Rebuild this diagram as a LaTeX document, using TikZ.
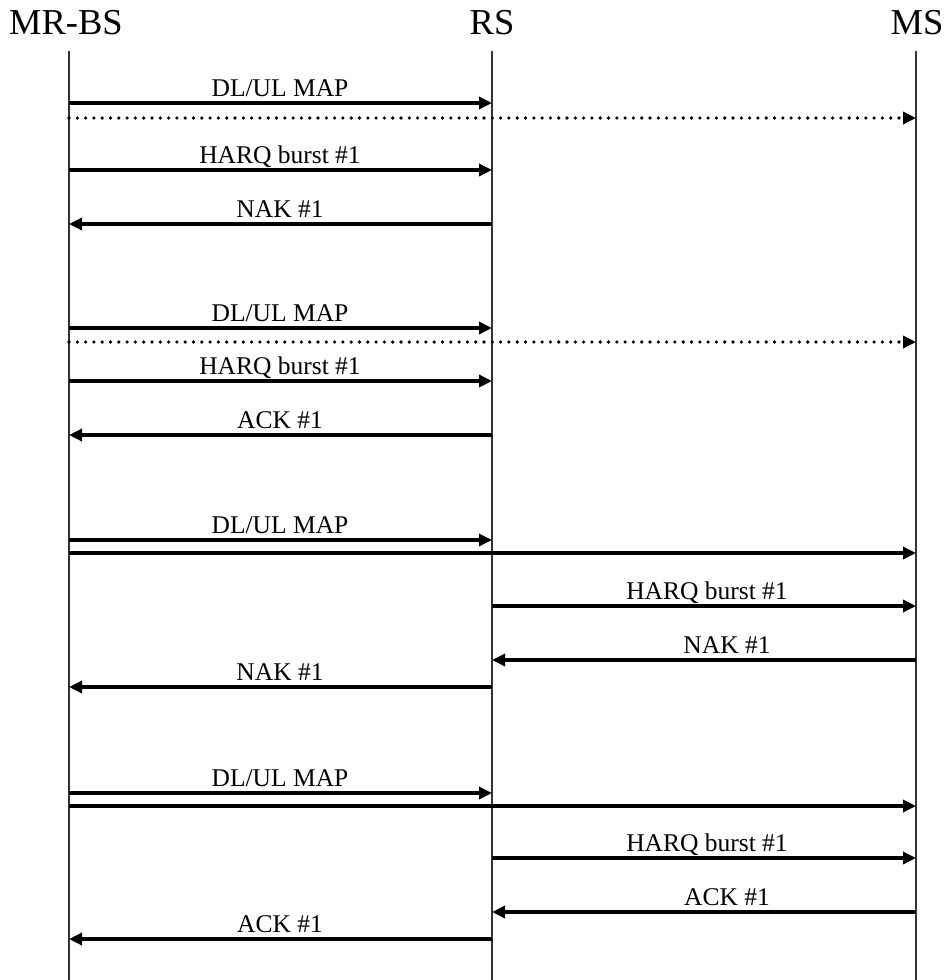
\documentclass[tikz,border=0pt]{standalone}
\usepackage{fontspec}
\setmainfont{Liberation Serif}
\usetikzlibrary{arrows.meta}
\begin{document}
\begin{tikzpicture}[x=1pt,y=-1pt,
  head/.style={anchor=base,inner sep=0pt,font=\fontsize{36.5}{40}\selectfont},
  lbl/.style={anchor=base,inner sep=0pt,font=\fontsize{25.5}{30}\selectfont},
  life/.style={line width=1.1pt,black!80},
  msg/.style={line width=3.6pt,-{Triangle[length=13pt,width=12pt]}},
  dotmsg/.style={line width=3.6pt,line cap=round,dash pattern=on 0pt off 8.3pt,-{Triangle[length=13pt,width=12pt]}}]
\useasboundingbox (0,0) rectangle (947,980);
% heads
\node[head] (hbs) at (66,34) {MR-BS};
\node[head] (hrs) at (492,34) {RS};
\node[head] (hms) at (917,34) {MS};
\coordinate (bs) at (69,51);
\coordinate (rs) at (492,51);
\coordinate (ms) at (916,51);
\coordinate (bsb) at (69,980);
\coordinate (rsb) at (492,980);
\coordinate (msb) at (916,980);
\draw[life] (bs) -- (bsb);
\draw[life] (rs) -- (rsb);
\draw[life] (ms) -- (msb);
% block 1
\draw[msg] (bs |- 0,103) -- (rs |- 0,103);
\node[lbl] (l1) at (280,96) {DL/UL MAP};
\draw[dotmsg] (bs |- 0,118) -- (ms |- 0,118);
\draw[msg] (bs |- 0,170) -- (rs |- 0,170);
\node[lbl] (l2) at (280,163) {HARQ burst \#1};
\draw[msg] (rs |- 0,224) -- (bs |- 0,224);
\node[lbl] (l3) at (280,217) {NAK \#1};
% block 2
\draw[msg] (bs |- 0,328) -- (rs |- 0,328);
\node[lbl] (l4) at (280,321) {DL/UL MAP};
\draw[dotmsg] (bs |- 0,342) -- (ms |- 0,342);
\draw[msg] (bs |- 0,381) -- (rs |- 0,381);
\node[lbl] (l5) at (280,374) {HARQ burst \#1};
\draw[msg] (rs |- 0,435) -- (bs |- 0,435);
\node[lbl] (l6) at (280,428) {ACK \#1};
% block 3
\draw[msg] (bs |- 0,540) -- (rs |- 0,540);
\node[lbl] (l7) at (280,533) {DL/UL MAP};
\draw[msg] (bs |- 0,553) -- (ms |- 0,553);
\draw[msg] (rs |- 0,606) -- (ms |- 0,606);
\node[lbl] (l8) at (707,599) {HARQ burst \#1};
\draw[msg] (ms |- 0,660) -- (rs |- 0,660);
\node[lbl] (l9) at (727,653) {NAK \#1};
\draw[msg] (rs |- 0,687) -- (bs |- 0,687);
\node[lbl] (l10) at (280,680) {NAK \#1};
% block 4
\draw[msg] (bs |- 0,793) -- (rs |- 0,793);
\node[lbl] (l11) at (280,786) {DL/UL MAP};
\draw[msg] (bs |- 0,806) -- (ms |- 0,806);
\draw[msg] (rs |- 0,858) -- (ms |- 0,858);
\node[lbl] (l12) at (707,851) {HARQ burst \#1};
\draw[msg] (ms |- 0,912) -- (rs |- 0,912);
\node[lbl] (l13) at (727,905) {ACK \#1};
\draw[msg] (rs |- 0,939) -- (bs |- 0,939);
\node[lbl] (l14) at (280,932) {ACK \#1};
\end{tikzpicture}
\end{document}
